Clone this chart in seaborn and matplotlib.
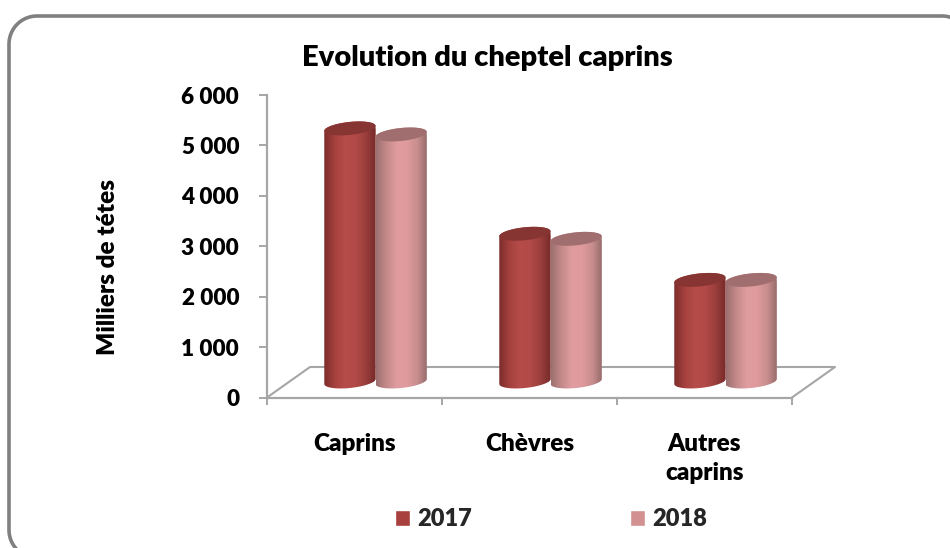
import numpy as np
import pandas as pd
import seaborn as sns
import matplotlib.pyplot as plt
from matplotlib.colors import LinearSegmentedColormap
from matplotlib.lines import Line2D
from matplotlib.patches import Polygon
from matplotlib.path import Path
from matplotlib.transforms import Affine2D

categories = ["Caprins", "Chèvres", "Autres\ncaprins"]
years = ["2017", "2018"]
values_2017 = [5020, 2930, 2015]
values_2018 = [4900, 2830, 2015]
y_ticks = [0, 1000, 2000, 3000, 4000, 5000, 6000]

sns.set_theme(style="white")
plt.rcParams["font.family"] = ["Lato", "DejaVu Sans"]
plt.rcParams["font.weight"] = "heavy"

FIG_W, FIG_H = 950, 548
GREY = "#a6a6a6"

df = pd.DataFrame({
    "categorie": categories * 2,
    "annee": [years[0]] * 3 + [years[1]] * 3,
    "valeur": values_2017 + values_2018,
})

fig = plt.figure(figsize=(FIG_W / 100, FIG_H / 100), dpi=100)
ax = fig.add_axes([267 / FIG_W, (FIG_H - 397.5) / FIG_H, 525 / FIG_W, 302.5 / FIG_H])

# fake 3D: the bars sit on the middle of the floor, not on the axis
px_x = 175.0
px_y = 302.5 / 6000
depth_x = 21 / px_x
base = 16 / px_y

sns.barplot(
    data=df,
    x="categorie",
    y="valeur",
    hue="annee",
    palette=["#a8403e", "#d29090"],
    width=0.585,
    gap=0,
    saturation=1,
    ax=ax,
)

ax.set_xlim(-0.5, 2.5)
ax.set_ylim(0, 6000)

# =====================================================
# Cylinders
# =====================================================

cmap_2017 = LinearSegmentedColormap.from_list(
    "c2017", ["#7c2d2b", "#a5413f", "#b54c49", "#b24a47", "#9c3f3d", "#762b2a"]
)
cmap_2018 = LinearSegmentedColormap.from_list(
    "c2018", ["#9c7070", "#c58a8b", "#e09c9e", "#de9a9c", "#c98e8f", "#946a6a"]
)
tops = ["#873533", "#a06e6e"]
cmaps = [cmap_2017, cmap_2018]

half_h = 6.5 / px_y
tilt = 2.5 / px_y
t = np.linspace(0, np.pi, 40)

for i, container in enumerate(ax.containers):
    for bar in container:
        bar.set_x(bar.get_x() + depth_x)
        bar.set_y(base)
        x0, w = bar.get_x(), bar.get_width()
        y0 = bar.get_y()
        y1 = y0 + bar.get_height()
        cx = x0 + w / 2

        ex = cx + w / 2 * np.cos(t)
        up = half_h * np.sin(t) + tilt * np.cos(t)
        low = -half_h * np.sin(t) + tilt * np.cos(t)

        body = np.vstack([
            np.column_stack([ex[::-1], y0 + low[::-1]]),
            np.column_stack([ex, y1 + up]),
        ])
        body_path = Path(np.vstack([body, body[0]]), closed=True)
        bar.set_clip_path(body_path, ax.transData)

        im = ax.imshow(
            np.linspace(0, 1, 64).reshape(1, -1),
            cmap=cmaps[i],
            extent=[x0, x0 + w, y0 - 2 * half_h, y1 + 2 * half_h],
            aspect="auto",
            zorder=3 + i,
        )
        im.set_clip_path(body_path, ax.transData)

        top = np.vstack([
            np.column_stack([ex, y1 + up]),
            np.column_stack([ex[::-1], y1 + low[::-1]]),
        ])
        ax.add_patch(Polygon(top, closed=True, facecolor=tops[i], edgecolor="none", zorder=3.5 + i))

ax.set_xlim(-0.5, 2.5)
ax.set_ylim(0, 6000)

# =====================================================
# Floor, axes, text
# =====================================================

floor_x = 43 / px_x
floor_y = 30.5 / px_y
ax.plot(
    [-0.5, -0.5 + floor_x, 2.5 + floor_x, 2.5],
    [0, floor_y, floor_y, 0],
    color=GREY,
    lw=1.5,
    clip_on=False,
    zorder=1,
)

sns.despine(ax=ax)
for side in ["left", "bottom"]:
    ax.spines[side].set_color(GREY)
    ax.spines[side].set_linewidth(1.6)

ax.set_yticks(y_ticks)
ax.set_yticklabels([f"{v:,}".replace(",", " ") for v in y_ticks])
ax.set_xticks([-0.5, 0.5, 1.5, 2.5])
ax.set_xticklabels([])
ax.set_xticks([0, 1, 2], labels=categories, minor=True)
ax.tick_params(axis="y", length=6, width=1.4, color=GREY, left=True, pad=14, labelsize=16.2, labelcolor="black")
ax.tick_params(axis="x", which="major", length=5, width=1.4, color=GREY, bottom=True)
ax.tick_params(axis="x", which="minor", length=0, pad=25.5, labelsize=17.5, labelcolor="black")
for lab in ax.get_xticklabels(minor=True):
    lab.set_linespacing(1.4)

ax.set_xlabel("")
ax.set_ylabel("")
fig.text(108 / FIG_W, 1 - 267 / FIG_H, "Milliers de tétes", rotation=90, ha="center", va="center",
         fontsize=17.5, color="black")
fig.text(487 / FIG_W, 1 - 58 / FIG_H, "Evolution du cheptel caprins", ha="center", va="center",
         fontsize=21, color="black")

sns.move_legend(
    ax,
    loc="center left",
    bbox_to_anchor=(394.5 / FIG_W, 1 - 519 / FIG_H),
    bbox_transform=fig.transFigure,
    ncol=2,
    title=None,
    frameon=False,
    fontsize=17,
    borderpad=0,
    borderaxespad=0,
    handlelength=0.65,
    handleheight=0.65,
    handletextpad=0.3,
    columnspacing=6.7,
)

# rounded frame, runs off the picture on the right and at the bottom
to_fig = Affine2D().scale(1 / FIG_W, -1 / FIG_H).translate(0, 1) + fig.transFigure
r = 28
a = np.linspace(0, np.pi / 2, 20)
left, top_y, right, bottom = 9, 16, 970, 558
frame_x = np.concatenate([
    left + r - r * np.cos(a)[::-1],
    left + r - r * np.cos(a),
    right - r + r * np.sin(a),
])
frame_y = np.concatenate([
    bottom - r + r * np.sin(a)[::-1],
    top_y + r - r * np.sin(a),
    top_y + r - r * np.cos(a),
])
fig.add_artist(Line2D(frame_x, frame_y, transform=to_fig, color="#808080", lw=2.6))

plt.savefig("out.png", dpi=100)
plt.close()
